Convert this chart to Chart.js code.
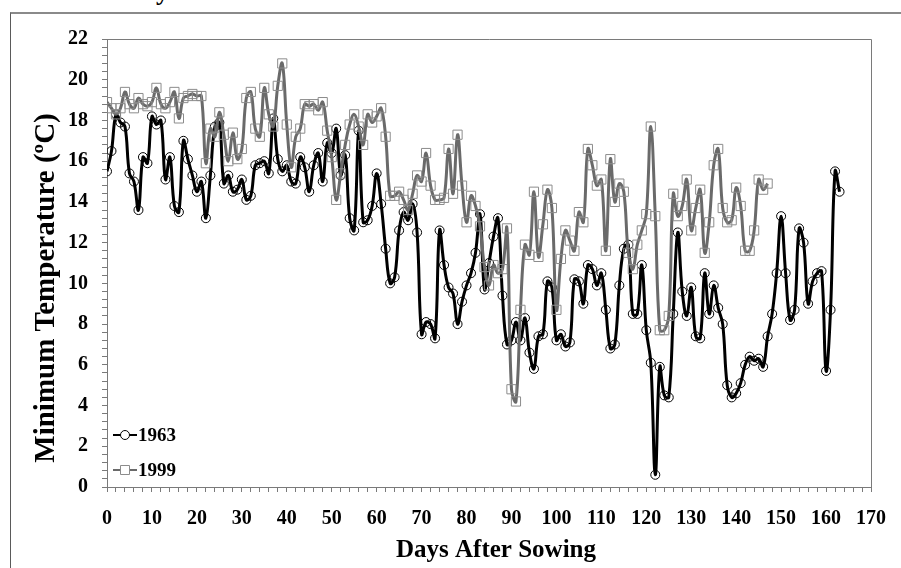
<!DOCTYPE html>
<html>
<head>
<meta charset="utf-8">
<script src="https://cdn.jsdelivr.net/npm/chart.js@4.4.0/dist/chart.umd.min.js"></script>
<style>
  html, body { margin: 0; padding: 0; background: #fff; }
  #wrap { position: relative; width: 901px; height: 568px; overflow: hidden; }
  #frame { position: absolute; left: 10px; top: 12px; width: 1000px; height: 1000px;
           border-left: 1px solid #5a5a5a; border-top: 2px solid #8a8a8a; }
  #cut { position: absolute; left: 156px; top: -23px; line-height: 30px;
         font: bold 26px "Liberation Serif", serif; }
  canvas { position: absolute; left: 0; top: 0; }
</style>
</head>
<body>
<div id="wrap">
  <div id="frame"></div>
  <div id="cut">y</div>
  <canvas id="myChart" width="901" height="568"></canvas>
</div>
<script>
"use strict"

// daily minimum temperature, one value per day starting at day 0
const temps1963 = [
  15.5, 16.5, 18.3, 17.9, 17.7, 15.4, 15.0, 13.6, 16.2, 15.9,
  18.2, 17.8, 18.0, 15.1, 16.2, 13.8, 13.5, 17.0, 16.1, 15.3,
  14.5, 15.0, 13.2, 15.3, 17.7, 17.9, 14.9, 15.3, 14.5, 14.6,
  15.1, 14.1, 14.3, 15.8, 15.9, 16.0, 15.4, 18.1, 16.1, 15.5,
  15.8, 15.0, 14.9, 16.2, 15.7, 14.5, 15.8, 16.4, 15.0, 16.9,
  16.4, 17.6, 15.3, 16.3, 13.2, 12.6, 17.5, 13.0, 13.1, 13.8,
  15.4, 13.9, 11.7, 10.0, 10.3, 12.6, 13.5, 13.1, 13.9, 12.5,
  7.5, 8.1, 8.0, 7.3, 12.6, 10.9, 9.8, 9.5, 8.0, 9.1,
  9.9, 10.5, 11.5, 13.4, 9.7, 11.0, 12.3, 13.2, 9.4, 7.0,
  7.2, 8.1, 7.2, 8.3, 6.6, 5.8, 7.4, 7.5, 10.1, 9.8,
  7.2, 7.5, 6.9, 7.1, 10.2, 10.1, 9.0, 10.9, 10.7, 9.9,
  10.5, 8.7, 6.8, 7.0, 9.9, 11.7, 11.9, 8.5, 8.5, 10.9,
  7.7, 6.1, 0.6, 5.9, 4.5, 4.4, 8.5, 12.5, 9.6, 8.4,
  9.8, 7.4, 7.3, 10.5, 8.5, 9.9, 8.8, 8.0, 5.0, 4.4,
  4.6, 5.1, 6.0, 6.4, 6.2, 6.3, 5.9, 7.4, 8.5, 10.5,
  13.3, 10.5, 8.2, 8.7, 12.7, 12.0, 9.0, 10.1, 10.5, 10.6,
  5.7, 8.7, 15.5, 14.5
];

const temps1999 = [
  18.9, 18.6, 18.3, 18.6, 19.4, 18.8, 18.6, 19.1, 18.8, 18.7,
  18.9, 19.6, 18.8, 18.6, 18.9, 19.4, 18.1, 19.1, 19.2, 19.3,
  19.2, 19.2, 15.9, 17.6, 17.2, 18.4, 17.3, 16.0, 17.4, 16.1,
  16.6, 19.1, 19.4, 17.6, 17.2, 19.6, 18.3, 17.7, 19.7, 20.8,
  17.8, 15.7, 17.2, 17.6, 18.8, 18.7, 18.8, 18.5, 18.9, 17.5,
  16.2, 14.1, 15.4, 16.8, 17.8, 18.3, 17.7, 16.8, 18.3, 17.9,
  18.2, 18.6, 17.2, 14.3, 14.3, 14.5, 14.1, 13.6, 14.4, 15.3,
  15.0, 16.4, 14.8, 14.1, 14.1, 14.2, 16.6, 14.4, 17.3, 14.8,
  13.0, 14.3, 13.8, 12.8, 10.8, 9.9, 10.9, 10.5, 10.7, 12.7,
  4.8, 4.2, 8.7, 11.9, 11.4, 14.5, 11.3, 12.9, 14.6, 13.7,
  8.7, 11.2, 12.6, 12.1, 11.6, 13.5, 13.0, 16.6, 15.8, 14.8,
  15.1, 11.6, 16.1, 14.0, 14.9, 14.5, 11.5, 10.7, 11.9, 12.6,
  13.4, 17.7, 13.3, 7.7, 7.7, 8.4, 14.4, 13.3, 13.8, 15.1,
  12.6, 13.7, 14.6, 11.5, 13.0, 15.8, 16.6, 13.7, 13.0, 13.1,
  14.7, 13.8, 11.6, 11.6, 12.6, 15.1, 14.6, 14.9
];

const seriesNames = ["1963", "1999"];
const xTickLabels = [0, 10, 20, 30, 40, 50, 60, 70, 80, 90, 100, 110, 120, 130, 140, 150, 160, 170];
const yTickLabels = [0, 2, 4, 6, 8, 10, 12, 14, 16, 18, 20, 22];
const xMinorStep = 2;
const yMinorStep = 0.4;
const xTitle = "Days After Sowing";
const yTitle = "Minimum Temperature (\u00BAC)";

const serif = "'Liberation Serif', 'Times New Roman', serif";

function toPoints(values) {
    return values.map((v, day) => ({ x: day, y: v }));
}

// minor tick marks, labels only on the major ones
function minorTicks(maxVal, step) {
    const n = Math.round(maxVal / step);
    const out = [];
    for (let i = 0; i <= n; i++) {
        out.push({ value: Math.round(i * step * 1000) / 1000 });
    }
    return out;
}

const plotFrame = {
    id: "plotFrame",
    beforeDatasetsDraw(chart) {
        const a = chart.chartArea;
        const ctx = chart.ctx;
        ctx.save();
        ctx.strokeStyle = "#7a7a7a";
        ctx.lineWidth = 1;
        ctx.beginPath();
        ctx.moveTo(a.left, a.top + 0.5);
        ctx.lineTo(a.right + 0.5, a.top + 0.5);
        ctx.lineTo(a.right + 0.5, a.bottom);
        ctx.stroke();
        ctx.restore();
    }
};

const titlesAndLegend = {
    id: "titlesAndLegend",
    afterDraw(chart) {
        const ctx = chart.ctx;
        ctx.save();
        ctx.fillStyle = "#000";

        // axis titles
        ctx.font = "bold 25px " + serif;
        ctx.textAlign = "center";
        ctx.textBaseline = "alphabetic";
        ctx.fillText(xTitle, 496, 557);

        ctx.translate(54, 288);
        ctx.rotate(-Math.PI / 2);
        ctx.font = "bold 29px " + serif;
        ctx.fillText(yTitle, 0, 0);
        ctx.setTransform(1, 0, 0, 1, 0, 0);

        // legend inside the plot, lower left
        const rows = [435, 470];
        chart.data.datasets.forEach((ds, i) => {
            const y = rows[i];
            ctx.strokeStyle = ds.borderColor;
            ctx.lineWidth = 2;
            ctx.beginPath();
            ctx.moveTo(113, y);
            ctx.lineTo(137, y);
            ctx.stroke();

            ctx.strokeStyle = ds.pointBorderColor;
            ctx.lineWidth = 1;
            ctx.fillStyle = "#fff";
            ctx.beginPath();
            if (ds.pointStyle === "circle") {
                ctx.arc(125, y, 4.5, 0, Math.PI * 2);
            } else {
                ctx.rect(120.5, y - 4.5, 9, 9);
            }
            ctx.fill();
            ctx.stroke();

            ctx.fillStyle = "#000";
            ctx.font = "bold 19px " + serif;
            ctx.textAlign = "left";
            ctx.textBaseline = "middle";
            ctx.fillText(ds.label, 138, y + 1);
        });
        ctx.restore();
    }
};

const data = {
    datasets: [
        {
            label: seriesNames[0],
            data: toPoints(temps1963),
            borderColor: "#000000",
            borderWidth: 3,
            tension: 0.4,
            pointStyle: "circle",
            pointRadius: 4.5,
            pointBorderWidth: 1,
            pointBorderColor: "#000000",
            pointBackgroundColor: "rgba(0,0,0,0)",
            order: 1
        },
        {
            label: seriesNames[1],
            data: toPoints(temps1999),
            borderColor: "#6a6a6a",
            borderWidth: 3,
            tension: 0.4,
            pointStyle: "rect",
            pointRadius: 6.5,
            pointBorderWidth: 1,
            pointBorderColor: "#8c8c8c",
            pointBackgroundColor: "rgba(0,0,0,0)",
            order: 0
        }
    ]
};

const config = {
    type: "line",
    data: data,
    plugins: [plotFrame, titlesAndLegend],
    options: {
        responsive: false,
        animation: false,
        devicePixelRatio: 1,
        layout: { padding: { left: 0, top: 39, right: 16, bottom: 0 } },
        plugins: {
            legend: { display: false },
            tooltip: { enabled: false }
        },
        scales: {
            x: {
                type: "linear",
                min: 0,
                max: 170,
                afterBuildTicks: (s) => { s.ticks = minorTicks(170, xMinorStep); },
                afterFit: (s) => { s.height = 81; },
                ticks: {
                    autoSkip: false,
                    maxRotation: 0,
                    padding: 15,
                    color: "#000",
                    font: { family: serif, size: 20, weight: "bold" },
                    callback: (v) => xTickLabels.includes(v) ? String(v) : ""
                },
                grid: { drawOnChartArea: false, tickLength: 5, color: "#7a7a7a" },
                border: { color: "#7a7a7a", width: 1 }
            },
            y: {
                min: 0,
                max: 22,
                afterBuildTicks: (s) => { s.ticks = minorTicks(22, yMinorStep); },
                afterFit: (s) => { s.width = 107; },
                ticks: {
                    autoSkip: false,
                    padding: 14,
                    color: "#000",
                    font: { family: serif, size: 20, weight: "bold" },
                    callback: (v) => yTickLabels.includes(v) ? String(v) : ""
                },
                grid: { drawOnChartArea: false, tickLength: 5, color: "#7a7a7a" },
                border: { color: "#7a7a7a", width: 1 }
            }
        }
    }
};

const tempChart = new Chart(document.getElementById("myChart"), config);
</script>
</body>
</html>
